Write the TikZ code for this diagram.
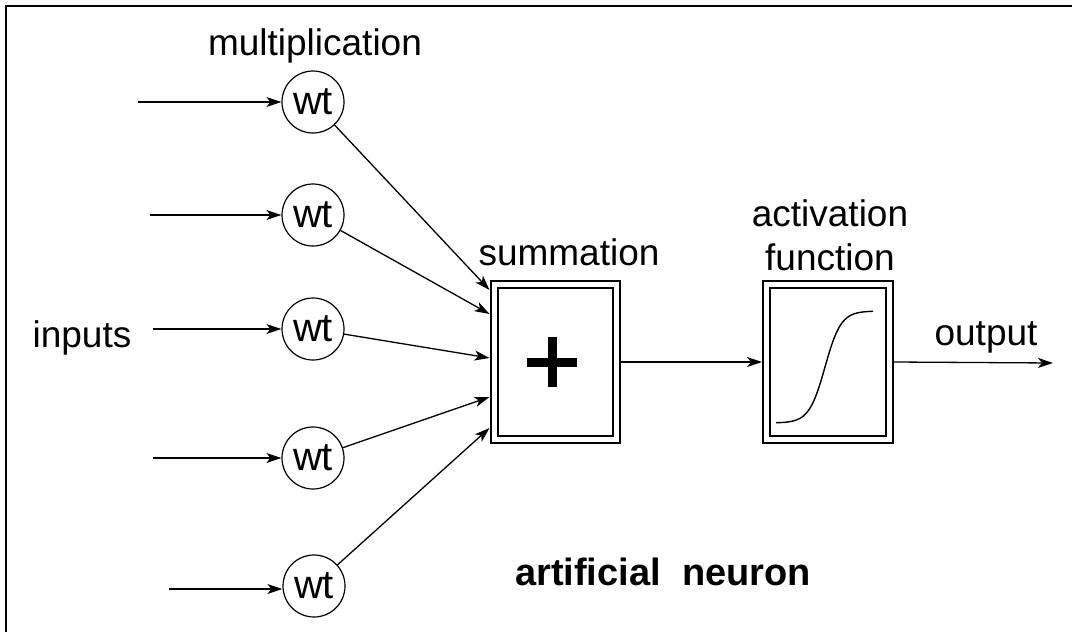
\documentclass[tikz,border=0pt]{standalone}
\usepackage{fontspec}
\setmainfont{Liberation Sans}
\usetikzlibrary{arrows.meta,calc}

\tikzset{
  lbl/.style={inner sep=0pt, anchor=base, font=\fontsize{37}{44}\selectfont},
  boldlbl/.style={inner sep=0pt, anchor=base, font=\fontsize{38}{44}\selectfont\bfseries},
  weight/.style={circle, draw, line width=1.2pt, minimum size=62pt, inner sep=0pt,
                 font=\fontsize{40}{44}\selectfont},
  block/.style={draw, line width=2pt, double, double distance=5pt, inner sep=0pt,
                outer sep=4.5pt, minimum width=122pt, minimum height=155pt},
  conn/.style={line width=1.3pt, -{Stealth[length=15pt, width=10pt, inset=4pt]}},
}

\begin{document}
\begin{tikzpicture}[x=1pt, y=-1pt]
  \useasboundingbox (0,0) rectangle (1072,632);

  % frame edges
  \draw[line width=2.6pt] (6,632) -- (6,6) -- (1072,6);

  % weighting nodes
  \node[weight] (w1) at (313,102) {wt};
  \node[weight] (w2) at (313,215) {wt};
  \node[weight] (w3) at (313,329) {wt};
  \node[weight] (w4) at (313,458) {wt};
  \node[weight] (w5) at (314,586) {wt};

  % summation and activation blocks
  \node[block] (sum) at (555,362) {};
  \node[block, minimum width=123pt] (act) at (828,362) {};

  % plus sign
  \draw[line width=9pt] ($(sum.center)+(-28,0)$) -- ($(sum.center)+(22,0)$);
  \draw[line width=9pt] ($(sum.center)+(-3,-25)$) -- ($(sum.center)+(-3,25)$);

  % sigmoid curve
  \draw[line width=1.4pt, shift={(act.center)}]
    plot[domain=-52:45, samples=80, smooth] (\x, {5-56*tanh((\x+3)/16)});

  % input ends
  \coordinate (i1) at (138,102);
  \coordinate (i2) at (150,215);
  \coordinate (i3) at (153,329);
  \coordinate (i4) at (153,458);
  \coordinate (i5) at (169,589);

  % entry points on the summation block
  \coordinate (s1) at ($(sum.west)+(0,-72)$);
  \coordinate (s2) at ($(sum.west)+(0,-48)$);
  \coordinate (s3) at ($(sum.west)+(0,-4)$);
  \coordinate (s4) at ($(sum.west)+(0,35)$);
  \coordinate (s5) at ($(sum.west)+(0,66)$);

  \coordinate (out) at (1053,363);

  % connectors
  \foreach \k in {1,...,5} {
    \draw[conn] (i\k) -- (i\k -| w\k.west);
    \draw[conn] (w\k) -- (s\k);
  }
  \draw[conn] (sum.east) -- (act.west);
  \draw[conn] (act.east) -- (out);

  % labels
  \node[lbl] (tmul) at (315,55) {multiplication};
  \node[lbl] (tin) at (82,347) {inputs};
  \node[lbl] (tsum) at (569,265) {summation};
  \node[lbl] (tact) at (830,226) {activation};
  \node[lbl] (tfun) at (830,270) {function};
  \node[lbl] (tout) at (986,345) {output};
  \node[boldlbl] (tneu) at (663,585) {artificial\ \ neuron};
\end{tikzpicture}
\end{document}
